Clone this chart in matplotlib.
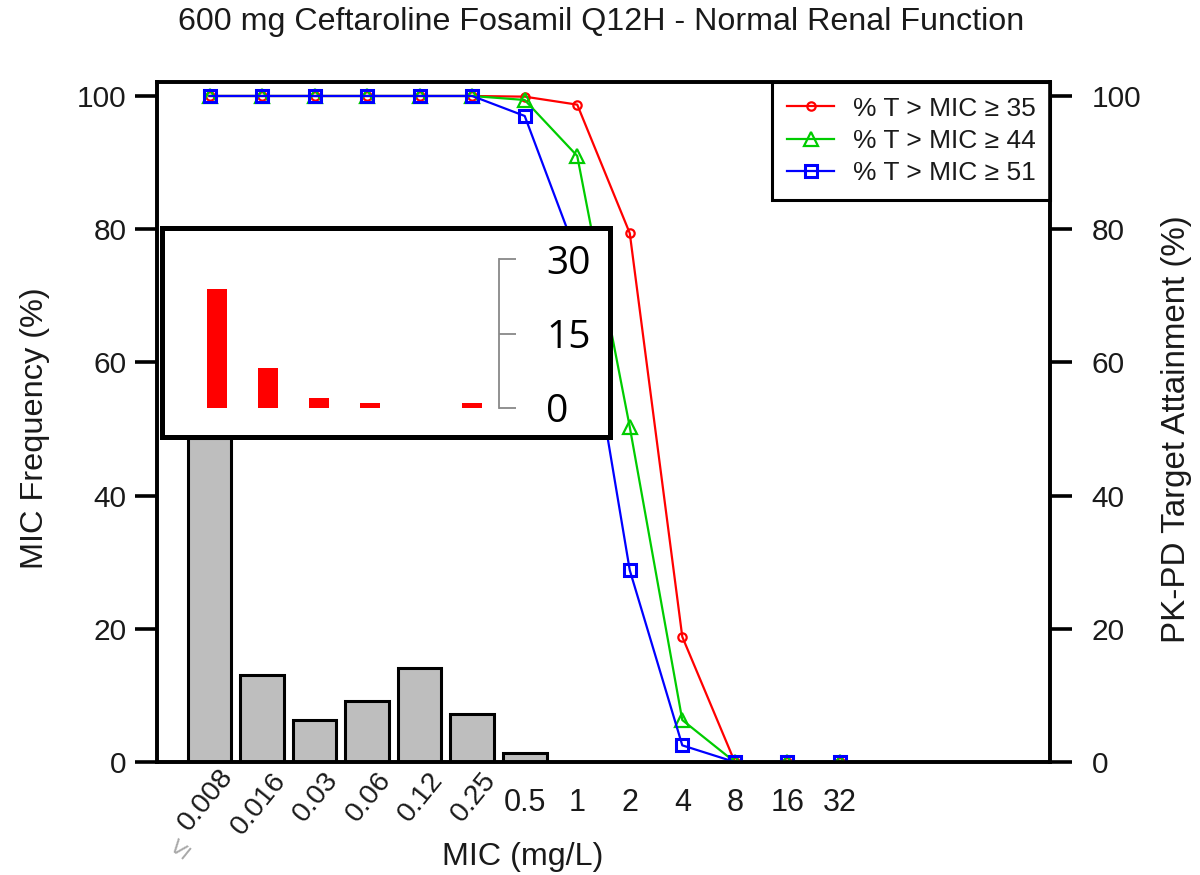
import matplotlib
matplotlib.use("Agg")
import matplotlib.pyplot as plt
from matplotlib.transforms import blended_transform_factory, offset_copy

plt.rcParams['font.family'] = ['Liberation Sans', 'DejaVu Sans']

# data
mic_labels = ["0.008", "0.016", "0.03", "0.06", "0.12", "0.25", "0.5",
              "1", "2", "4", "8", "16", "32"]
mic_freq = [48.7, 13.1, 6.3, 9.2, 14.1, 7.2, 1.3]
pta_35 = [100, 100, 100, 100, 100, 100, 99.9, 98.7, 79.4, 18.8, 0, 0, 0]
pta_44 = [100, 100, 100, 100, 100, 100, 99.4, 91.0, 50.3, 6.3, 0, 0, 0]
pta_51 = [100, 100, 100, 100, 100, 100, 97.0, 76.0, 28.8, 2.5, 0, 0, 0]
inset_vals = [24, 8, 2, 1, 0, 1]
inset_ticks = [0, 15, 30]

txt = '#1a1a1a'
W, H = 1200, 875

fig = plt.figure(figsize=(12, 8.75), dpi=100)
ax = fig.add_axes([157 / W, 1 - 762 / H, (1050 - 157) / W, (762 - 82) / H])

x = list(range(len(mic_labels)))
ax.bar(x[:len(mic_freq)], mic_freq, width=0.83, color='#bebebe',
       edgecolor='black', linewidth=2.2, zorder=2)

ax.plot(x, pta_35, color='#ff0000', lw=1.6, marker='o', ms=6, mfc='none',
        mew=1.6, label='% T > MIC ≥ 35', zorder=3)
ax.plot(x, pta_44, color='#00cc00', lw=1.6, marker='^', ms=10, mfc='none',
        mew=1.6, label='% T > MIC ≥ 44', zorder=4)
ax.plot(x, pta_51, color='#0000ff', lw=1.6, marker='s', ms=9, mfc='none',
        mew=2.2, label='% T > MIC ≥ 51', zorder=5)

ax.set_xlim(-1, 16)
ax.set_ylim(0, 102.1)
for s in ax.spines.values():
    s.set_linewidth(2.6)
ax.set_yticks([0, 20, 40, 60, 80, 100])
ax.tick_params(axis='y', length=16, width=2.6, labelsize=21.5, pad=6,
               labelcolor=txt)
ax.set_xticks([])

ax2 = ax.twinx()
ax2.set_ylim(0, 102.1)
ax2.set_yticks([0, 20, 40, 60, 80, 100])
ax2.tick_params(axis='y', length=16, width=2.6, labelsize=21.5, pad=14,
                labelcolor=txt)
for s in ax2.spines.values():
    s.set_linewidth(2.6)

# x tick labels: first six slanted, rest flat
tr = blended_transform_factory(ax.transData, ax.transAxes)
for i, lab in enumerate(mic_labels):
    if i < 6:
        dy = -1 if i == 0 else -4
        t = offset_copy(tr, fig=fig, x=21, y=dy, units='points')
        ax.text(i, 0, lab, transform=t, rotation=51, ha='right', va='top',
                fontsize=20.5, color=txt)
    else:
        t = offset_copy(tr, fig=fig, x=0, y=-19, units='points')
        ax.text(i, 0, lab, transform=t, ha='center', va='top', fontsize=22,
                color=txt)
fig.text(181 / W, 1 - 849 / H, '≤', rotation=51, ha='center', va='center',
         fontsize=21, color='#aaaaaa')

leg = ax.legend(loc='upper right', borderaxespad=0, fontsize=19,
                fancybox=False, framealpha=1, edgecolor='black',
                handlelength=1.8, labelspacing=0.32, handletextpad=0.7,
                borderpad=0.55)
leg.get_frame().set_linewidth(2.2)
leg.set_zorder(10)
for t in leg.get_texts():
    t.set_color(txt)

fig.text(601 / W, 1 - 22 / H, '600 mg Ceftaroline Fosamil Q12H - Normal Renal Function',
         ha='center', va='center', fontsize=23.2, color=txt)
fig.text(523 / W, 1 - 857 / H, 'MIC (mg/L)', ha='center', va='center',
         fontsize=23.2, color=txt)
fig.text(35 / W, 1 - 428 / H, 'MIC Frequency (%)', ha='center', va='center',
         rotation=90, fontsize=23.4, color=txt)
fig.text(1177 / W, 1 - 429 / H, 'PK-PD Target Attainment (%)', ha='center',
         va='center', rotation=90, fontsize=23.9, color=txt)

# inset box
box = fig.add_axes([162 / W, 1 - 437 / H, (610 - 162) / W, (437 - 228) / H])
box.set_xticks([])
box.set_yticks([])
box.set_facecolor('white')
for s in box.spines.values():
    s.set_linewidth(3.6)
box.set_zorder(20)

ins = fig.add_axes([171 / W, 1 - 408 / H, (499 - 171) / W, (408 - 259) / H])
ins.set_zorder(21)
ins.patch.set_alpha(0)
ins.bar(range(len(inset_vals)), inset_vals, width=0.4, color='#ff0000')
ins.set_xlim(-0.9, 5.53)
ins.set_ylim(0, 30)
ins.set_xticks([])
for k in ['left', 'top', 'bottom']:
    ins.spines[k].set_visible(False)
ins.spines['right'].set_color('#888888')
ins.spines['right'].set_linewidth(1.3)
ins.yaxis.tick_right()
ins.set_yticks(inset_ticks)
ins.tick_params(axis='y', length=12, width=1.3, color='#888888', pad=22,
                labelsize=28, labelcolor='black')
for t in ins.get_yticklabels():
    t.set_family(['Open Sans', 'DejaVu Sans'])

fig.savefig('out.png', dpi=100)
